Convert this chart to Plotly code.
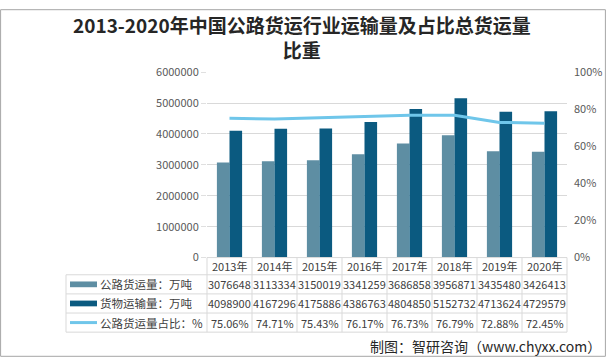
import plotly.graph_objects as go

years = ["2013年", "2014年", "2015年", "2016年", "2017年", "2018年", "2019年", "2020年"]
road_freight = [3076648, 3113334, 3150019, 3341259, 3686858, 3956871, 3435480, 3426413]
total_freight = [4098900, 4167296, 4175886, 4386763, 4804850, 5152732, 4713624, 4729579]
road_share = [75.06, 74.71, 75.43, 76.17, 76.73, 76.79, 72.88, 72.45]
series_names = ["公路货运量：万吨", "货物运输量：万吨", "公路货运量占比：%"]
left_ticks = [0, 1000000, 2000000, 3000000, 4000000, 5000000, 6000000]
right_ticks = [0, 20, 40, 60, 80, 100]

W, H = 606, 364
C_LIGHT = "#5e8ea3"
C_DARK = "#0b5a80"
C_LINE = "#6fc6ea"
GRID = "#d9d9d9"
TXT = "#404040"
FONT = "Noto Sans CJK SC"

def px(x):
    return x / W

def py(y):
    return 1 - y / H

X0, X1 = 207, 567
Y_TOP, Y_BOT = 66, 260

fig = go.Figure()
fig.add_trace(go.Bar(x=years, y=road_freight, name=series_names[0], marker_color=C_LIGHT,
                     marker_line_width=0))
fig.add_trace(go.Bar(x=years, y=total_freight, name=series_names[1], marker_color=C_DARK,
                     marker_line_width=0))
fig.add_trace(go.Scatter(x=years, y=road_share, name=series_names[2], mode="lines",
                         line=dict(color=C_LINE, width=3), yaxis="y2"))

shapes = []
annotations = []

row_lines = [278, 298, 318, 338]
row_centers = [288, 308, 328]
header_center = 269
col_w = (X1 - X0) / len(years)
LINE_C = "#d9d9d9"

shapes.append(dict(type="line", xref="paper", yref="paper", x0=px(X0), x1=px(X1),
                   y0=py(Y_BOT), y1=py(Y_BOT), line=dict(color=LINE_C, width=1)))
for yl in row_lines:
    shapes.append(dict(type="line", xref="paper", yref="paper", x0=px(66), x1=px(X1),
                       y0=py(yl), y1=py(yl), line=dict(color=LINE_C, width=1)))
for i in range(len(years) + 1):
    xv = X0 + i * col_w
    shapes.append(dict(type="line", xref="paper", yref="paper", x0=px(xv), x1=px(xv),
                       y0=py(Y_BOT), y1=py(338), line=dict(color=LINE_C, width=1)))
shapes.append(dict(type="line", xref="paper", yref="paper", x0=px(66), x1=px(66),
                   y0=py(278), y1=py(338), line=dict(color=LINE_C, width=1)))

for i, yr in enumerate(years):
    annotations.append(dict(x=px(X0 + (i + 0.5) * col_w), y=py(header_center), xref="paper",
                            yref="paper", text=yr, showarrow=False, xanchor="center",
                            yanchor="middle",
                            font=dict(family=FONT, size=11, color=TXT)))

rows = [
    [str(v) for v in road_freight],
    [str(v) for v in total_freight],
    [f"{v:.2f}%" for v in road_share],
]
for r, vals in enumerate(rows):
    for i, v in enumerate(vals):
        annotations.append(dict(x=px(X0 + (i + 0.5) * col_w), y=py(row_centers[r]), xref="paper",
                                yref="paper", text=v, showarrow=False, xanchor="center",
                                yanchor="middle",
                                font=dict(family=FONT, size=11, color=TXT)))
    annotations.append(dict(x=px(98), y=py(row_centers[r]), xref="paper", yref="paper",
                            text=series_names[r], showarrow=False, xanchor="left",
                            yanchor="middle",
                            font=dict(family=FONT, size=11.5, color=TXT)))

shapes.append(dict(type="rect", xref="paper", yref="paper", x0=px(70), x1=px(97),
                   y0=py(291), y1=py(285), fillcolor=C_LIGHT, line_width=0))
shapes.append(dict(type="rect", xref="paper", yref="paper", x0=px(70), x1=px(97),
                   y0=py(311), y1=py(305), fillcolor=C_DARK, line_width=0))
shapes.append(dict(type="line", xref="paper", yref="paper", x0=px(70), x1=px(97),
                   y0=py(328), y1=py(328), line=dict(color=C_LINE, width=3)))

shapes.append(dict(type="rect", xref="paper", yref="paper", x0=0.001, x1=0.999, y0=0.002, y1=0.998,
                   line=dict(color="#a6a6a6", width=1)))

annotations.append(dict(x=px(302), y=py(29), xref="paper", yref="paper", xanchor="center",
                        yanchor="middle", align="center",
                        text="<b>2013-2020年中国公路货运行业运输量及占比总货运量<br>比重</b>",
                        showarrow=False,
                        font=dict(family=FONT, size=19, color="#262626")))
annotations.append(dict(x=px(603), y=py(352), xref="paper", yref="paper", xanchor="right",
                        yanchor="middle",
                        text="制图：智研咨询（www.chyxx.com）", showarrow=False,
                        font=dict(family=FONT, size=14, color="#262626")))

fig.update_layout(
    width=W, height=H,
    margin=dict(l=0, r=0, t=0, b=0),
    paper_bgcolor="white", plot_bgcolor="white",
    showlegend=False,
    barmode="group", bargap=0.44, bargroupgap=0,
    xaxis=dict(domain=[px(X0), px(X1)], range=[-0.5, 7.5], showticklabels=False,
               showgrid=False, zeroline=False, showline=False, ticks=""),
    yaxis=dict(domain=[py(Y_BOT), py(Y_TOP)], range=[0, 6000000], tickvals=left_ticks,
               ticktext=[str(v) for v in left_ticks],
               showgrid=True, gridcolor=GRID, gridwidth=1, zeroline=False, showline=False,
               ticks="outside", ticklen=5, tickcolor="#e0e0e0",
               tickfont=dict(family=FONT, size=11, color="#595959")),
    yaxis2=dict(overlaying="y", side="right", anchor="x", range=[0, 100], tickvals=right_ticks,
                ticktext=[f"{v}%" for v in right_ticks], showgrid=False, zeroline=False,
                showline=False, ticks="", ticklabelstandoff=6,
                tickfont=dict(family=FONT, size=11, color="#595959")),
    shapes=shapes,
    annotations=annotations,
)

fig.write_html("out.html", config={"displayModeBar": False},
               post_script="document.body.style.margin='0';")
